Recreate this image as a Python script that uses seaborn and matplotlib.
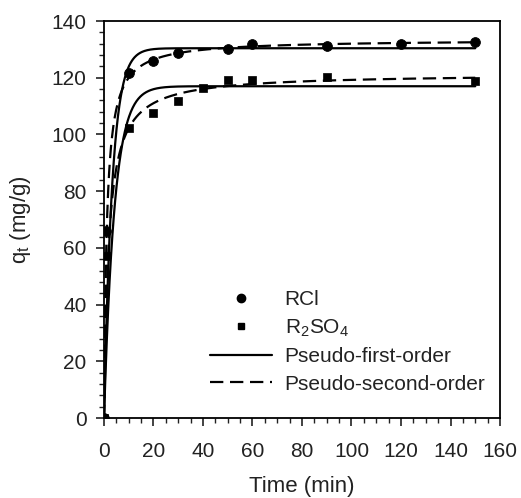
import numpy as np
import pandas as pd
import seaborn as sns
import matplotlib
matplotlib.use('Agg')
import matplotlib.pyplot as plt
from matplotlib.lines import Line2D
from matplotlib.ticker import AutoMinorLocator

# measured uptake
time_rcl = [0, 1, 10, 20, 30, 50, 60, 90, 120, 150]
q_rcl = [0, 66, 121.5, 125.9, 128.6, 130.3, 131.9, 131.2, 131.9, 132.5]
time_r2so4 = [0, 1, 10, 20, 30, 40, 50, 60, 90, 150]
q_r2so4 = [0, 57, 102.1, 107.7, 111.9, 116.5, 119.3, 119.2, 120.1, 118.9]

# fitted kinetic parameters (qe in mg/g, k1 in 1/min, k2 in g/mg/min)
pfo_rcl = (130.4, 0.30)
pso_rcl = (133.5, 0.00667)
pfo_r2so4 = (117.0, 0.236)
pso_r2so4 = (121.5, 0.00436)

t = np.linspace(0, 150, 800)


def pfo(params):
    qe, k = params
    return qe * (1 - np.exp(-k * t))


def pso(params):
    qe, k = params
    return k * qe**2 * t / (1 + k * qe * t)


sns.set_style('ticks')
plt.rcParams['font.family'] = ['Liberation Sans', 'DejaVu Sans']

fig = plt.figure(figsize=(5.21, 4.98), dpi=100)
ax = fig.add_axes([0.1996, 0.1606, 0.7601, 0.7972])

for curve in [pfo(pfo_rcl), pfo(pfo_r2so4)]:
    sns.lineplot(x=t, y=curve, ax=ax, color='black', lw=1.6)
for curve in [pso(pso_rcl), pso(pso_r2so4)]:
    sns.lineplot(x=t, y=curve, ax=ax, color='black', lw=1.6, dashes=False,
                 linestyle=(0, (6, 3)))

sns.scatterplot(x=time_rcl, y=q_rcl, ax=ax, marker='o', s=50, color='black',
                edgecolor='black', zorder=5)
sns.scatterplot(x=time_r2so4, y=q_r2so4, ax=ax, marker='s', s=40, color='black',
                edgecolor='black', zorder=5)

ax.set_xlim(0, 160)
ax.set_ylim(0, 140)
ax.set_xticks(range(0, 161, 20))
ax.set_yticks(range(0, 141, 20))
ax.xaxis.set_minor_locator(AutoMinorLocator(4))
ax.yaxis.set_minor_locator(AutoMinorLocator(5))
ax.tick_params(which='major', direction='out', length=6, width=1.2, labelsize=15,
               colors='#222222', top=False, right=False)
ax.tick_params(which='minor', direction='out', length=3.5, width=1,
               colors='#222222', top=False, right=False)
ax.tick_params(axis='x', which='major', pad=11)
ax.tick_params(axis='y', which='major', pad=6.5)
for s in ax.spines.values():
    s.set_linewidth(1.3)
    s.set_color('black')

ax.set_xlabel('Time (min)', fontsize=16, labelpad=11, color='#222222')
ax.set_ylabel('q$_\\mathregular{t}$ (mg/g)', fontsize=16, labelpad=13, color='#222222')

handles = [
    Line2D([], [], marker='o', color='black', ls='none', markersize=6),
    Line2D([], [], marker='s', color='black', ls='none', markersize=5),
    Line2D([], [], color='black', lw=1.6),
    Line2D([], [], color='black', lw=1.6, ls=(0, (6, 3))),
]
labels = ['RCl', 'R$_\\mathregular{2}$SO$_\\mathregular{4}$',
          'Pseudo-first-order', 'Pseudo-second-order']
leg = ax.legend(handles, labels, loc='lower right', bbox_to_anchor=(1.0, 0.025),
                frameon=False, fontsize=15, handlelength=3.0, handletextpad=0.6,
                labelspacing=0.4, borderaxespad=0.3)
for txt in leg.get_texts():
    txt.set_color('#222222')

fig.savefig('out.png', dpi=100)
